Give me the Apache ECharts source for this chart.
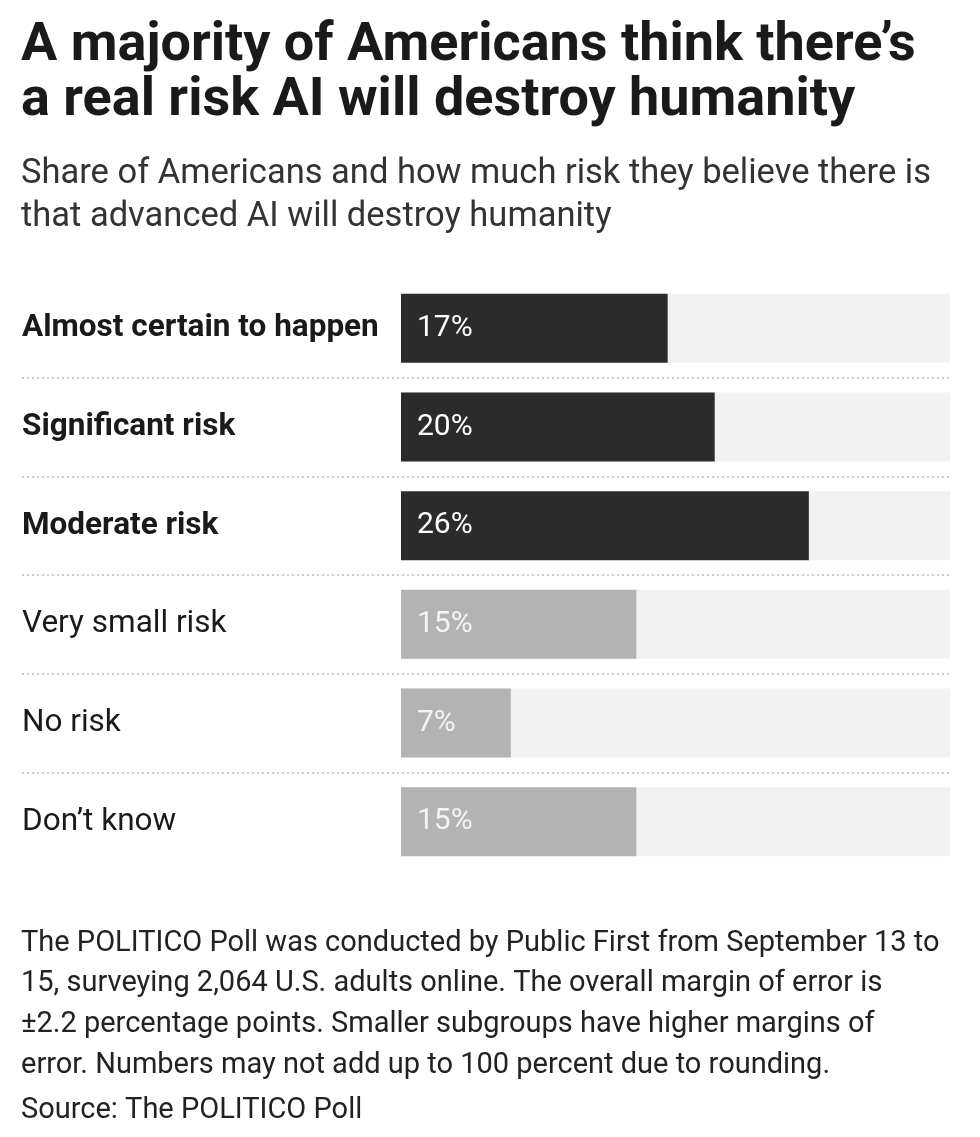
<!DOCTYPE html>
<html>
<head>
<meta charset="utf-8">
<script src="https://cdn.jsdelivr.net/npm/echarts@6/dist/echarts.min.js"></script>
<style>
  html, body { margin: 0; padding: 0; background: #fff; }
  #main { width: 980px; height: 1137px; }
</style>
</head>
<body>
<div id="main"></div>
<script>
// categories top to bottom, share in percent
var categories = ['Almost certain to happen', 'Significant risk', 'Moderate risk', 'Very small risk', 'No risk', "Don\u2019t know"];
var shares = [17, 20, 26, 15, 7, 15];
var boldRows = [true, true, true, false, false, false];
var axisMax = 35;

var titleText = 'A majority of Americans think there\u2019s\na real risk AI will destroy humanity';
var subText = 'Share of Americans and how much risk they believe there is\nthat advanced AI will destroy humanity';
var noteText = 'The POLITICO Poll was conducted by Public First from September 13 to\n15, surveying 2,064 U.S. adults online. The overall margin of error is\n\u00b12.2 percentage points. Smaller subgroups have higher margins of\nerror. Numbers may not add up to 100 percent due to rounding.';
var sourceText = 'Source: The POLITICO Poll';

var fontFam = 'Roboto, "Noto Sans", sans-serif';

var barData = shares.map(function(v, i) {
    return {
        value: v,
        itemStyle: { color: boldRows[i] ? '#2b2b2b' : '#b3b3b3' },
        label: { color: boldRows[i] ? '#ffffff' : '#f4f4f4' }
    };
});

var option = {
    backgroundColor: '#ffffff',
    animation: false,
    title: [{
        text: titleText,
        left: 16,
        top: 14,
        textStyle: { fontFamily: fontFam, fontWeight: 'bold', fontSize: 54, lineHeight: 55, color: '#1a1a1a' }
    }, {
        text: subText,
        left: 16,
        top: 148,
        textStyle: { fontFamily: fontFam, fontWeight: 'normal', fontSize: 34.5, lineHeight: 43, color: '#333333' }
    }, {
        text: noteText,
        left: 16,
        top: 918,
        textStyle: { fontFamily: fontFam, fontWeight: 'normal', fontSize: 29, lineHeight: 40.7, color: '#222222' }
    }, {
        text: sourceText,
        left: 16,
        top: 1088,
        textStyle: { fontFamily: fontFam, fontWeight: 'normal', fontSize: 29, lineHeight: 36, color: '#222222' }
    }],
    grid: [
        { left: 22, right: 30, top: 279, bottom: 266 },
        { left: 401, right: 30, top: 279, bottom: 266 }
    ],
    xAxis: [
        { gridIndex: 0, type: 'value', min: 0, max: axisMax, show: false },
        { gridIndex: 1, type: 'value', min: 0, max: axisMax, show: false }
    ],
    yAxis: [{
        gridIndex: 0,
        type: 'category',
        inverse: true,
        data: categories,
        axisLine: { show: false },
        axisTick: { show: false },
        splitLine: {
            show: true,
            showMinLine: false,
            showMaxLine: false,
            lineStyle: { color: '#cccccc', width: 2, type: [2, 3] }
        },
        axisLabel: {
            inside: true,
            margin: 0,
            formatter: function(value, idx) {
                return boldRows[idx] ? '{b|' + value + '}' : '{n|' + value + '}';
            },
            rich: {
                b: { fontFamily: fontFam, fontWeight: 'bold', fontSize: 31.5, color: '#1a1a1a' },
                n: { fontFamily: fontFam, fontWeight: 'normal', fontSize: 31.5, color: '#1a1a1a' }
            }
        }
    }, {
        gridIndex: 1,
        type: 'category',
        inverse: true,
        data: categories,
        show: false
    }],
    series: [{
        type: 'bar',
        xAxisIndex: 1,
        yAxisIndex: 1,
        data: barData,
        barWidth: 69,
        showBackground: true,
        backgroundStyle: { color: '#f2f2f2' },
        label: {
            show: true,
            position: 'insideLeft',
            distance: 16,
            formatter: '{c}%',
            fontFamily: fontFam,
            fontSize: 30
        }
    }]
};

var myChart = echarts.init(document.getElementById('main'));
myChart.setOption(option);
</script>
</body>
</html>
